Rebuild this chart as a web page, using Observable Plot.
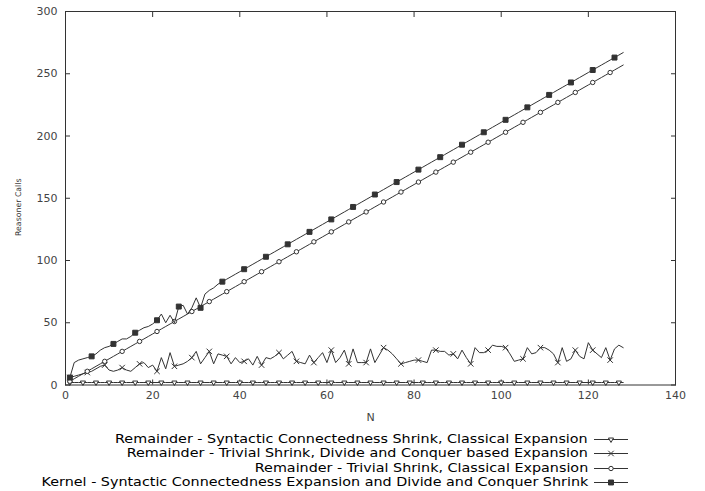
<!DOCTYPE html>
<html><head><meta charset="utf-8">
<script src="https://cdn.jsdelivr.net/npm/d3@7"></script>
<script src="https://cdn.jsdelivr.net/npm/@observablehq/plot@0.6"></script>
<style>
body{margin:0;background:#fff;font-family:"DejaVu Sans",sans-serif;}
#wrap{position:relative;width:705px;height:491px;}
#legend{position:absolute;left:0;top:432px;width:705px;}
.row{position:relative;height:14.4px;}
.row span{position:absolute;right:117px;top:0;font-size:12.3px;line-height:14px;white-space:nowrap;color:#000;transform:scaleX(1.165);transform-origin:right center;}
.row svg{position:absolute;left:593px;top:0;}
</style></head>
<body><div id="wrap"><div id="chart"></div><div id="legend"></div></div>
<script>
const seriesNames = [
  "Remainder - Syntactic Connectedness Shrink, Classical Expansion",
  "Remainder - Trivial Shrink, Divide and Conquer based Expansion",
  "Remainder - Trivial Shrink, Classical Expansion",
  "Kernel - Syntactic Connectedness Expansion and Divide and Conquer Shrink"
];
const N = [1,2,3,4,5,6,7,8,9,10,11,12,13,14,15,16,17,18,19,20,21,22,23,24,25,26,27,28,29,30,31,32,33,34,35,36,37,38,39,40,41,42,43,44,45,46,47,48,49,50,51,52,53,54,55,56,57,58,59,60,61,62,63,64,65,66,67,68,69,70,71,72,73,74,75,76,77,78,79,80,81,82,83,84,85,86,87,88,89,90,91,92,93,94,95,96,97,98,99,100,101,102,103,104,105,106,107,108,109,110,111,112,113,114,115,116,117,118,119,120,121,122,123,124,125,126,127,128];
const remSyntClassical = [2,2,2,2,2,2,2,2,2,2,2,2,2,2,2,2,2,2,2,2,2,2,2,2,2,2,2,2,2,2,2,2,2,2,2,2,2,2,2,2,2,2,2,2,2,2,2,2,2,2,2,2,2,2,2,2,2,2,2,2,2,2,2,2,2,2,2,2,2,2,2,2,2,2,2,2,2,2,2,2,2,2,2,2,2,2,2,2,2,2,2,2,2,2,2,2,2,2,2,2,2,2,2,2,2,2,2,2,2,2,2,2,2,2,2,2,2,2,2,2,2,2,2,2,2,2,2,2];
const remTrivialDC = [6,7,8,9,10,11,13,15,16,12,11,12,14,12,11,14,17,18,14,16,11,22,13,26,15,16,17,19,22,27,17,22,27,17,25,24,23,17,22,18,19,21,16,23,16,22,21,23,26,21,24,27,19,18,17,24,18,22,26,18,28,18,22,28,17,29,18,18,18,29,18,24,30,28,25,21,17,18,19,20,20,19,18,28,28,27,27,24,25,21,28,22,17,30,26,26,28,32,31,31,30,25,19,20,21,30,25,26,30,30,28,25,18,30,19,21,28,23,21,34,28,25,22,30,20,29,32,30];
const remTrivialClassical = [3,5,7,9,11,13,15,17,19,21,23,25,27,29,31,33,35,37,39,41,43,45,47,49,51,53,55,57,59,61,63,65,67,69,71,73,75,77,79,81,83,85,87,89,91,93,95,97,99,101,103,105,107,109,111,113,115,117,119,121,123,125,127,129,131,133,135,137,139,141,143,145,147,149,151,153,155,157,159,161,163,165,167,169,171,173,175,177,179,181,183,185,187,189,191,193,195,197,199,201,203,205,207,209,211,213,215,217,219,221,223,225,227,229,231,233,235,237,239,241,243,245,247,249,251,253,255,257];
const kernel = [6,18,20,21,22,23,25,28,30,31,33,35,37,37,39,42,44,46,47,49,52,57,50,56,50,63,64,57,62,70,62,73,76,78,81,83,85,87,89,91,93,95,97,99,101,103,105,107,109,111,113,115,117,119,121,123,125,127,129,131,133,135,137,139,141,143,145,147,149,151,153,155,157,159,161,163,165,167,169,171,173,175,177,179,181,183,185,187,189,191,193,195,197,199,201,203,205,207,209,211,213,215,217,219,221,223,225,227,229,231,233,235,237,239,241,243,245,247,249,251,253,255,257,259,261,263,265,267];
const xTicks = [0,20,40,60,80,100,120,140];
const yTicks = [0,50,100,150,200,250,300];

const ink = "#333";
const defs = [
  {values: remSyntClassical, symbol: "triangle", rotate: 180, every: 3, r: 1.9, fill: "white"},
  {values: remTrivialDC, symbol: "times", rotate: 0, every: 4, r: 2.6, fill: "none"},
  {values: remTrivialClassical, symbol: "circle", rotate: 0, every: 4, r: 2.2, fill: "white"},
  {values: kernel, symbol: "square", rotate: 0, every: 5, r: 2.8, fill: ink}
];
const marks = [];
defs.forEach((d, s) => {
  const rows = N.map((n, i) => ({n, v: d.values[i], i}));
  marks.push(Plot.line(rows, {x: "n", y: "v", stroke: ink, strokeWidth: 1}));
  marks.push(Plot.dot(rows.filter(r => r.i % d.every === 0), {x: "n", y: "v", symbol: d.symbol, rotate: d.rotate, r: d.r, stroke: ink, strokeWidth: 1, fill: d.fill}));
});

const chart = Plot.plot({
  width: 705, height: 425,
  marginLeft: 65, marginRight: 30, marginTop: 11, marginBottom: 40.5,
  style: {fontFamily: "DejaVu Sans, sans-serif", fontSize: "11px", color: "#444", background: "white"},
  x: {domain: [0, 140]},
  y: {domain: [0, 300]},
  marks: [
    Plot.axisX({ticks: xTicks, tickSize: -5, tickPadding: 11, label: "N", labelAnchor: "center", labelArrow: "none", labelOffset: 36, stroke: ink}),
    Plot.axisX({anchor: "top", ticks: xTicks, tickSize: -5, tickFormat: () => "", label: null, stroke: ink}),
    Plot.axisY({ticks: yTicks, tickSize: -5, tickPadding: 13, label: null, stroke: ink}),
    Plot.axisY({anchor: "right", ticks: yTicks, tickSize: -5, tickFormat: () => "", label: null, stroke: ink}),
    Plot.text(["Reasoner Calls"], {frameAnchor: "left", textAnchor: "middle", rotate: -90, dx: -47, dy: 9, fontSize: 7.8, fill: "#333"}),
    ...marks,
    Plot.frame({stroke: ink})
  ]
});
document.getElementById("chart").appendChild(chart);

const legend = document.getElementById("legend");
defs.forEach((d, s) => {
  const row = document.createElement("div");
  row.className = "row";
  const sp = document.createElement("span");
  sp.textContent = seriesNames[s];
  row.appendChild(sp);
  const svg = d3.create("svg").attr("width", 36).attr("height", 14);
  svg.append("line").attr("x1", 1).attr("x2", 35).attr("y1", 7.5).attr("y2", 7.5).attr("stroke", ink);
  const sym = {triangle: d3.symbolTriangle, times: d3.symbolTimes, circle: d3.symbolCircle, square: d3.symbolSquare}[d.symbol];
  svg.append("path").attr("d", d3.symbol(sym, Math.PI * d.r * d.r)())
    .attr("transform", `translate(18,7.5) rotate(${d.rotate})`)
    .attr("stroke", ink).attr("fill", d.fill);
  row.appendChild(svg.node());
  legend.appendChild(row);
});
</script>
</body></html>
